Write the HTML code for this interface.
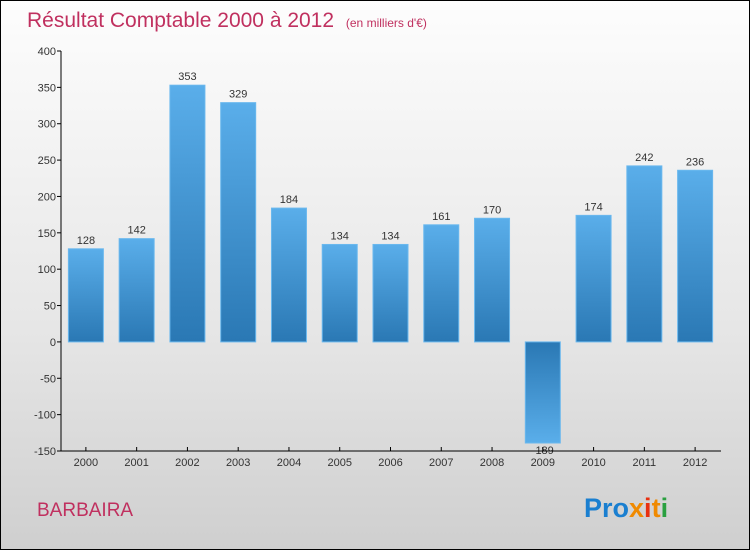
<!DOCTYPE html>
<html><head><meta charset="utf-8"><style>
body{margin:0}
#c{width:748px;height:548px;border:1px solid #000;background:linear-gradient(#fdfdfd,#e6e6e6 60%,#cfcfcf);position:relative;font-family:"Liberation Sans",sans-serif}
</style></head><body>
<div id="c">
<svg width="748" height="548" style="position:absolute;left:0;top:0">
<defs>
<linearGradient id="gp" x1="0" y1="0" x2="0" y2="1"><stop offset="0" stop-color="#5aaeea"/><stop offset="1" stop-color="#2a78b4"/></linearGradient>
<linearGradient id="gn" x1="0" y1="0" x2="0" y2="1"><stop offset="0" stop-color="#2a78b4"/><stop offset="1" stop-color="#5aaeea"/></linearGradient>
</defs>
<text x="26" y="26" font-size="21" fill="#c0305f">Résultat Comptable 2000 à 2012 <tspan font-size="12" dx="6">(en milliers d'€)</tspan></text>
<g id="g"></g>
<text x="36" y="515" font-size="19" fill="#c0305f">BARBAIRA</text>
<text x="583" y="516" font-size="27" font-weight="bold"><tspan fill="#1a7fd0">Pro</tspan><tspan fill="#f08a00">x</tspan><tspan fill="#e83010">i</tspan><tspan fill="#f08a00">t</tspan><tspan fill="#2aa040">i</tspan></text>
</svg></div>
<script>
const categories=["2000","2001","2002","2003","2004","2005","2006","2007","2008","2009","2010","2011","2012"];
const values=[128,142,353,329,184,134,134,161,170,-189,174,242,236];
const yTicks=[400,350,300,250,200,150,100,50,0,-50,-100,-150];
const ns="http://www.w3.org/2000/svg",g=document.getElementById('g');
const yMin=-150,yMax=400,yTop=50,yBot=450,xL=60,xR=720;
const y=v=>yBot-(v-yMin)/(yMax-yMin)*(yBot-yTop);
const step=(xR-xL)/categories.length;
const x=i=>xL+step*(i+0.5)-0.5;
function el(t,a,txt){const e=document.createElementNS(ns,t);for(const k in a)e.setAttribute(k,a[k]);if(txt!=null)e.textContent=txt;g.appendChild(e);return e;}
let ax=el('line',{x1:xL,y1:yTop,x2:xL,y2:yBot,stroke:'#000'});


yTicks.forEach(t=>{
 const tk=el('line',{x1:xL-4,y1:y(t),x2:xL,y2:y(t),stroke:'#000'});
 
 
 const l=el('text',{x:xL-5,y:y(t)+4,'font-size':11,'text-anchor':'end',fill:'#333'},t);
 
 
});
values.forEach((v,i)=>{
 const cx=x(i),w=35;
 let y0=y(0),y1=y(v);
 if(v<0)y1=Math.min(y1,y(yMin)-8);
 const r=el('rect',{x:cx-w/2,y:Math.min(y0,y1),width:w,height:Math.abs(y1-y0),fill:v>=0?'url(#gp)':'url(#gn)',stroke:'#6ab8ee','stroke-width':1});
 
 
 const ly=v>=0?y1-5:y1+11;
 const t=el('text',{x:cx,y:ly,'font-size':11,'text-anchor':'middle',fill:'#333'},v);
 
 
 const tk=el('line',{x1:cx,y1:yBot-4,x2:cx,y2:yBot,stroke:'#000'});
 
 
 const c=el('text',{x:cx,y:yBot+15,'font-size':11,'text-anchor':'middle',fill:'#333'},categories[i]);
 
 
});
let xa=el('line',{x1:xL,y1:yBot,x2:xR,y2:yBot,stroke:'#000'});


</script></body></html>
